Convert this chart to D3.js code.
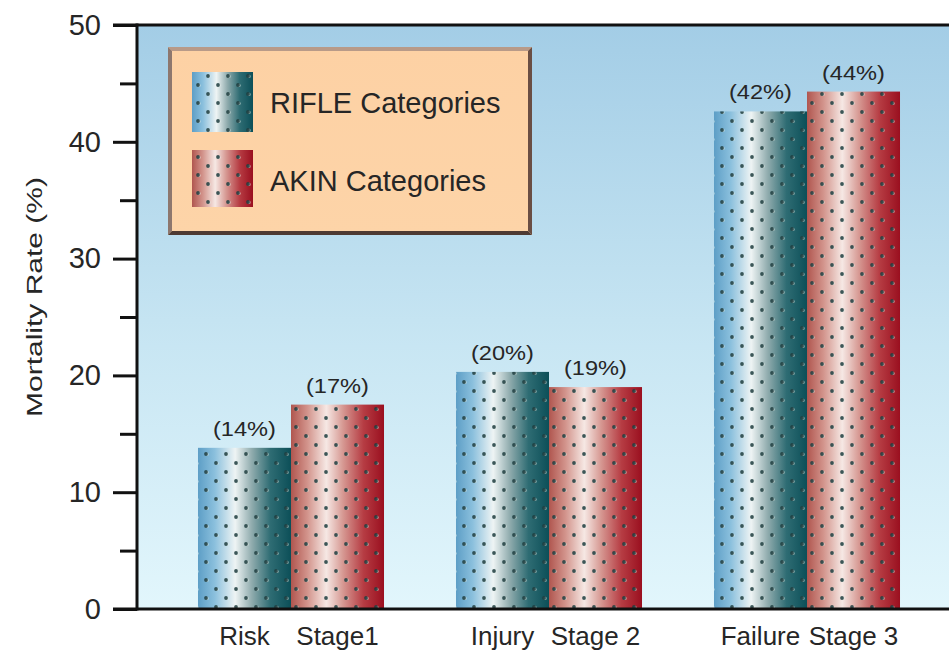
<!DOCTYPE html>
<html>
<head>
<meta charset="utf-8">
<script src="https://cdn.jsdelivr.net/npm/d3@7"></script>
<style>
  html, body { margin: 0; padding: 0; background: #fff; }
  svg { display: block; }
  text { font-family: "Liberation Sans", Arial, Helvetica, sans-serif; fill: #262626; }
</style>
</head>
<body>
<svg id="chart" width="949" height="652"></svg>
<script>
// ---------------- data ----------------
const groups = ["Risk", "Injury", "Failure"];
const series = ["RIFLE", "AKIN"];
const rifleValues = [13.8, 20.3, 42.6];
const akinValues = [17.5, 19.0, 44.3];
const rifleValueLabels = ["(14%)", "(20%)", "(42%)"];
const akinValueLabels = ["(17%)", "(19%)", "(44%)"];
const rifleAxisLabels = ["Risk", "Injury", "Failure"];
const akinAxisLabels = ["Stage1", "Stage 2", "Stage 3"];
const legendLabels = ["RIFLE Categories", "AKIN Categories"];
const majorTicks = [0, 10, 20, 30, 40, 50];
const minorTicks = [5, 15, 25, 35, 45];
const yTitle = "Mortality Rate (%)";

// ---------------- layout ----------------
const svg = d3.select("#chart");
const plotL = 137, plotR = 949, plotT = 25, plotB = 609;

const y = d3.scaleLinear().domain([0, 50]).range([plotB, plotT]);
const x0 = d3.scaleBand().domain(groups).range([162, 936]).paddingInner(0.279).paddingOuter(0.1395);
const x1 = d3.scaleBand().domain(series).range([0, x0.bandwidth()]);

const defs = svg.append("defs");

// background gradient
const bg = defs.append("linearGradient").attr("id", "bgGrad").attr("x1", 0).attr("y1", 0).attr("x2", 0).attr("y2", 1);
bg.append("stop").attr("offset", "0%").attr("stop-color", "#a3cde6");
bg.append("stop").attr("offset", "55%").attr("stop-color", "#c8e6f3");
bg.append("stop").attr("offset", "100%").attr("stop-color", "#e2f6fc");

// bar gradients
const gradStops = {
  RIFLE: [[0, "#5d9ec6"], [0.18, "#8bc0dd"], [0.40, "#eef4f4"], [0.58, "#8fabad"], [0.78, "#2e6c73"], [1, "#0c4f58"]],
  AKIN: [[0, "#b0564f"], [0.18, "#d3958d"], [0.38, "#f6e8e4"], [0.56, "#d69892"], [0.78, "#b63c43"], [1, "#9a0f1f"]]
};
series.forEach(s => {
  const g = defs.append("linearGradient").attr("id", "grad" + s).attr("x1", 0).attr("y1", 0).attr("x2", 1).attr("y2", 0);
  gradStops[s].forEach(([o, c]) => g.append("stop").attr("offset", o).attr("stop-color", c));
});

// dot pattern
const pat = defs.append("pattern").attr("id", "dots").attr("patternUnits", "userSpaceOnUse")
  .attr("width", 20).attr("height", 18).attr("x", 8).attr("y", 4);
[[0, 0], [10, 9], [20, 0], [0, 18], [20, 18]].forEach(([cx, cy]) => {
  pat.append("circle").attr("cx", cx + 1.1).attr("cy", cy + 0.4).attr("r", 1.6).attr("fill", "#e4eee6").attr("opacity", 0.55);
  pat.append("circle").attr("cx", cx).attr("cy", cy).attr("r", 1.9).attr("fill", "#1d3c3e").attr("opacity", 0.85);
});

// legend fill
const lg = defs.append("linearGradient").attr("id", "legFill").attr("x1", 0).attr("y1", 0).attr("x2", 0).attr("y2", 1);
lg.append("stop").attr("offset", "0%").attr("stop-color", "#fdd1a4");
lg.append("stop").attr("offset", "100%").attr("stop-color", "#fdd4a8");

// ---------------- plot background ----------------
svg.append("rect").attr("x", plotL).attr("y", plotT).attr("width", plotR - plotL).attr("height", plotB - plotT)
  .attr("fill", "url(#bgGrad)");

// ---------------- bars ----------------
const data = groups.map((g, i) => ({
  group: g,
  items: [
    { s: "RIFLE", v: rifleValues[i], label: rifleValueLabels[i], axis: rifleAxisLabels[i] },
    { s: "AKIN", v: akinValues[i], label: akinValueLabels[i], axis: akinAxisLabels[i] }
  ]
}));

const gg = svg.append("g").selectAll("g").data(data).join("g")
  .attr("transform", d => `translate(${x0(d.group)},0)`);

gg.selectAll("rect.bar").data(d => d.items).join("rect").attr("class", "bar")
  .attr("x", d => x1(d.s)).attr("width", x1.bandwidth())
  .attr("y", d => y(d.v)).attr("height", d => y(0) - y(d.v))
  .attr("fill", d => `url(#grad${d.s})`);
gg.selectAll("rect.dots").data(d => d.items).join("rect").attr("class", "dots")
  .attr("x", d => x1(d.s)).attr("width", x1.bandwidth())
  .attr("y", d => y(d.v)).attr("height", d => y(0) - y(d.v))
  .attr("fill", "url(#dots)");

gg.selectAll("text.val").data(d => d.items).join("text").attr("class", "val")
  .attr("x", d => x1(d.s) + x1.bandwidth() / 2)
  .attr("y", d => y(d.v) - 12)
  .attr("text-anchor", "middle")
  .attr("font-size", 21)
  .attr("textLength", 63).attr("lengthAdjust", "spacingAndGlyphs")
  .text(d => d.label);

gg.selectAll("text.xl").data(d => d.items).join("text").attr("class", "xl")
  .attr("x", d => x1(d.s) + x1.bandwidth() / 2)
  .attr("y", 645)
  .attr("text-anchor", "middle")
  .attr("font-size", 26)
  .text(d => d.axis);

// ---------------- axes ----------------
const axisMajor = d3.axisLeft(y).tickValues(majorTicks).tickSize(24).tickPadding(12).tickFormat(d3.format("d"));
const axisMinor = d3.axisLeft(y).tickValues(minorTicks).tickSize(17).tickFormat("");
const ga = svg.append("g").attr("transform", `translate(${plotL},0)`).call(axisMajor);
ga.select(".domain").remove();
ga.selectAll("line").attr("stroke", "#111").attr("stroke-width", 3);
ga.selectAll("text").attr("font-size", 29).attr("fill", "#262626").style("font-family", "'Liberation Sans', Arial, sans-serif");
const gm = svg.append("g").attr("transform", `translate(${plotL},0)`).call(axisMinor);
gm.select(".domain").remove();
gm.selectAll("line").attr("stroke", "#111").attr("stroke-width", 3);

svg.append("line").attr("x1", plotL).attr("x2", plotL).attr("y1", plotT - 1.5).attr("y2", plotB + 1.5)
  .attr("stroke", "#111").attr("stroke-width", 3);
svg.append("line").attr("x1", 113).attr("x2", plotR).attr("y1", plotB).attr("y2", plotB)
  .attr("stroke", "#111").attr("stroke-width", 3);
svg.append("line").attr("x1", 113).attr("x2", plotR).attr("y1", plotT).attr("y2", plotT)
  .attr("stroke", "#111").attr("stroke-width", 3);

// y title
svg.append("text")
  .attr("transform", `translate(42,297) rotate(-90)`)
  .attr("text-anchor", "middle")
  .attr("font-size", 22)
  .attr("textLength", 240).attr("lengthAdjust", "spacingAndGlyphs")
  .text(yTitle);

// ---------------- legend ----------------
const L = { x: 168, y: 47, w: 364, h: 188, b: 4 };
const leg = svg.append("g");
leg.append("rect").attr("x", L.x).attr("y", L.y).attr("width", L.w).attr("height", L.h).attr("fill", "url(#legFill)");
const bevel = [
  { pts: [[L.x, L.y], [L.x + L.w, L.y], [L.x + L.w - L.b, L.y + L.b], [L.x + L.b, L.y + L.b]], c: "#b89a88" },
  { pts: [[L.x, L.y], [L.x + L.b, L.y + L.b], [L.x + L.b, L.y + L.h - L.b], [L.x, L.y + L.h]], c: "#8d776e" },
  { pts: [[L.x, L.y + L.h], [L.x + L.b, L.y + L.h - L.b], [L.x + L.w - L.b, L.y + L.h - L.b], [L.x + L.w, L.y + L.h]], c: "#4e3a33" },
  { pts: [[L.x + L.w, L.y], [L.x + L.w, L.y + L.h], [L.x + L.w - L.b, L.y + L.h - L.b], [L.x + L.w - L.b, L.y + L.b]], c: "#6a4e44" }
];
leg.selectAll("polygon").data(bevel).join("polygon")
  .attr("points", d => d.pts.map(p => p.join(",")).join(" "))
  .attr("fill", d => d.c);

const legItems = series.map((s, i) => ({ s, label: legendLabels[i], y: [72, 150][i], h: [60, 57][i], ty: [113, 191][i] }));
leg.selectAll("rect.sw").data(legItems).join("rect").attr("class", "sw")
  .attr("x", 192).attr("y", d => d.y).attr("width", 61).attr("height", d => d.h)
  .attr("fill", d => `url(#grad${d.s})`);
leg.selectAll("rect.swd").data(legItems).join("rect").attr("class", "swd")
  .attr("x", 192).attr("y", d => d.y).attr("width", 61).attr("height", d => d.h)
  .attr("fill", "url(#dots)");
leg.selectAll("text").data(legItems).join("text")
  .attr("x", 270).attr("y", d => d.ty)
  .attr("font-size", 29)
  .attr("fill", "#2a1f1a")
  .text(d => d.label);
</script>
</body>
</html>
